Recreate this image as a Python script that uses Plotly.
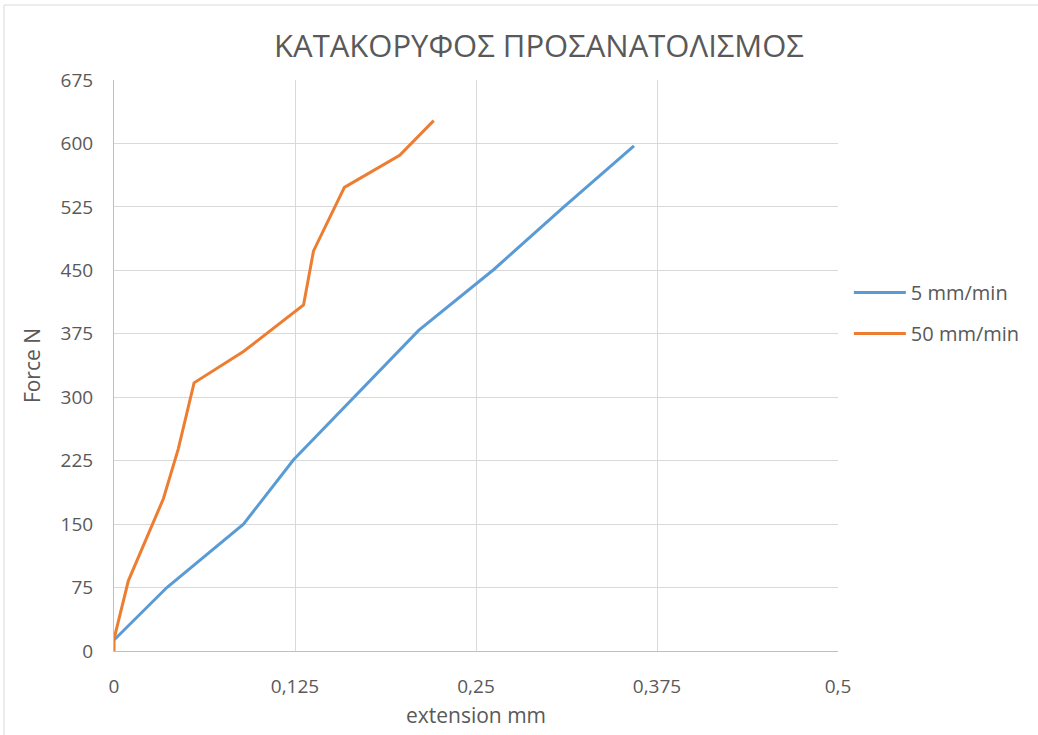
import plotly.graph_objects as go

title_text = "ΚΑΤΑΚΟΡΥΦΟΣ ΠΡΟΣΑΝΑΤΟΛΙΣΜΟΣ"
series_names = ["5 mm/min", "50 mm/min"]

ext_5 = [0, 0.0365, 0.0894, 0.124, 0.2104, 0.2623, 0.3107, 0.3591]
force_5 = [13, 75, 150, 226, 379, 451, 525, 597]

ext_50 = [0, 0, 0.0099, 0.0341, 0.0444, 0.0553, 0.0894, 0.1309, 0.1378, 0.1591, 0.1973, 0.2208]
force_50 = [0, 14, 83, 180, 239, 317, 354, 409, 473, 548, 586, 627]

x_tickvals = [0, 0.125, 0.25, 0.375, 0.5]
x_ticktext = ["0", "0,125", "0,25", "0,375", "0,5"]
y_tickvals = [0, 75, 150, 225, 300, 375, 450, 525, 600, 675]

colors = ["#5b9bd5", "#ed7d31"]
font_family = "Open Sans, Liberation Sans, sans-serif"
txt_color = "#595959"

fig = go.Figure()
fig.add_trace(go.Scatter(x=ext_5, y=force_5, mode="lines", name=series_names[0],
                         line=dict(color=colors[0], width=3), legendgroup="a"))
fig.add_trace(go.Scatter(x=ext_50, y=force_50, mode="lines", name=series_names[1],
                         line=dict(color=colors[1], width=3), legendgroup="b"))

fig.update_layout(
    width=1038, height=735,
    margin=dict(l=114, r=200, t=80, b=84),
    paper_bgcolor="white", plot_bgcolor="white",
    font=dict(family=font_family, color=txt_color, size=18),
    title=dict(text=title_text, x=539/1038, xanchor="center", y=1-46/735, yanchor="middle",
               font=dict(size=31, color=txt_color, family=font_family)),
    legend=dict(x=1.015, y=0.592, xanchor="left", yanchor="middle",
                font=dict(size=20, color=txt_color), traceorder="grouped", tracegroupgap=12,
                itemwidth=52, bgcolor="rgba(0,0,0,0)"),
    xaxis=dict(range=[0, 0.5], tickvals=x_tickvals, ticktext=x_ticktext,
               showgrid=True, gridcolor="#d9d9d9", gridwidth=1,
               zeroline=False, showline=True, linecolor="#bfbfbf", linewidth=1,
               ticks="", ticklabelstandoff=18, tickfont=dict(size=19, color=txt_color),
               title=dict(text="extension mm", font=dict(size=21, color=txt_color), standoff=10)),
    yaxis=dict(range=[0, 675], tickvals=y_tickvals,
               showgrid=True, gridcolor="#d9d9d9", gridwidth=1,
               zeroline=False, showline=True, linecolor="#bfbfbf", linewidth=1,
               ticks="", ticklabelstandoff=16, tickfont=dict(size=19, color=txt_color),
               title=dict(text="Force N", font=dict(size=21, color=txt_color), standoff=14)),
)

# chart-area border (top and left edges visible in the reference)
fig.add_shape(type="line", xref="paper", yref="paper",
              x0=(4-114)/724, x1=(1038-114)/724, y0=(651-5)/571, y1=(651-5)/571,
              line=dict(color="#d9d9d9", width=1))
fig.add_shape(type="line", xref="paper", yref="paper",
              x0=(4-114)/724, x1=(4-114)/724, y0=(651-5)/571, y1=(651-735)/571,
              line=dict(color="#d9d9d9", width=1))

fig.write_html("out.html", config={"displayModeBar": False},
               post_script="document.body.style.margin='0';")
